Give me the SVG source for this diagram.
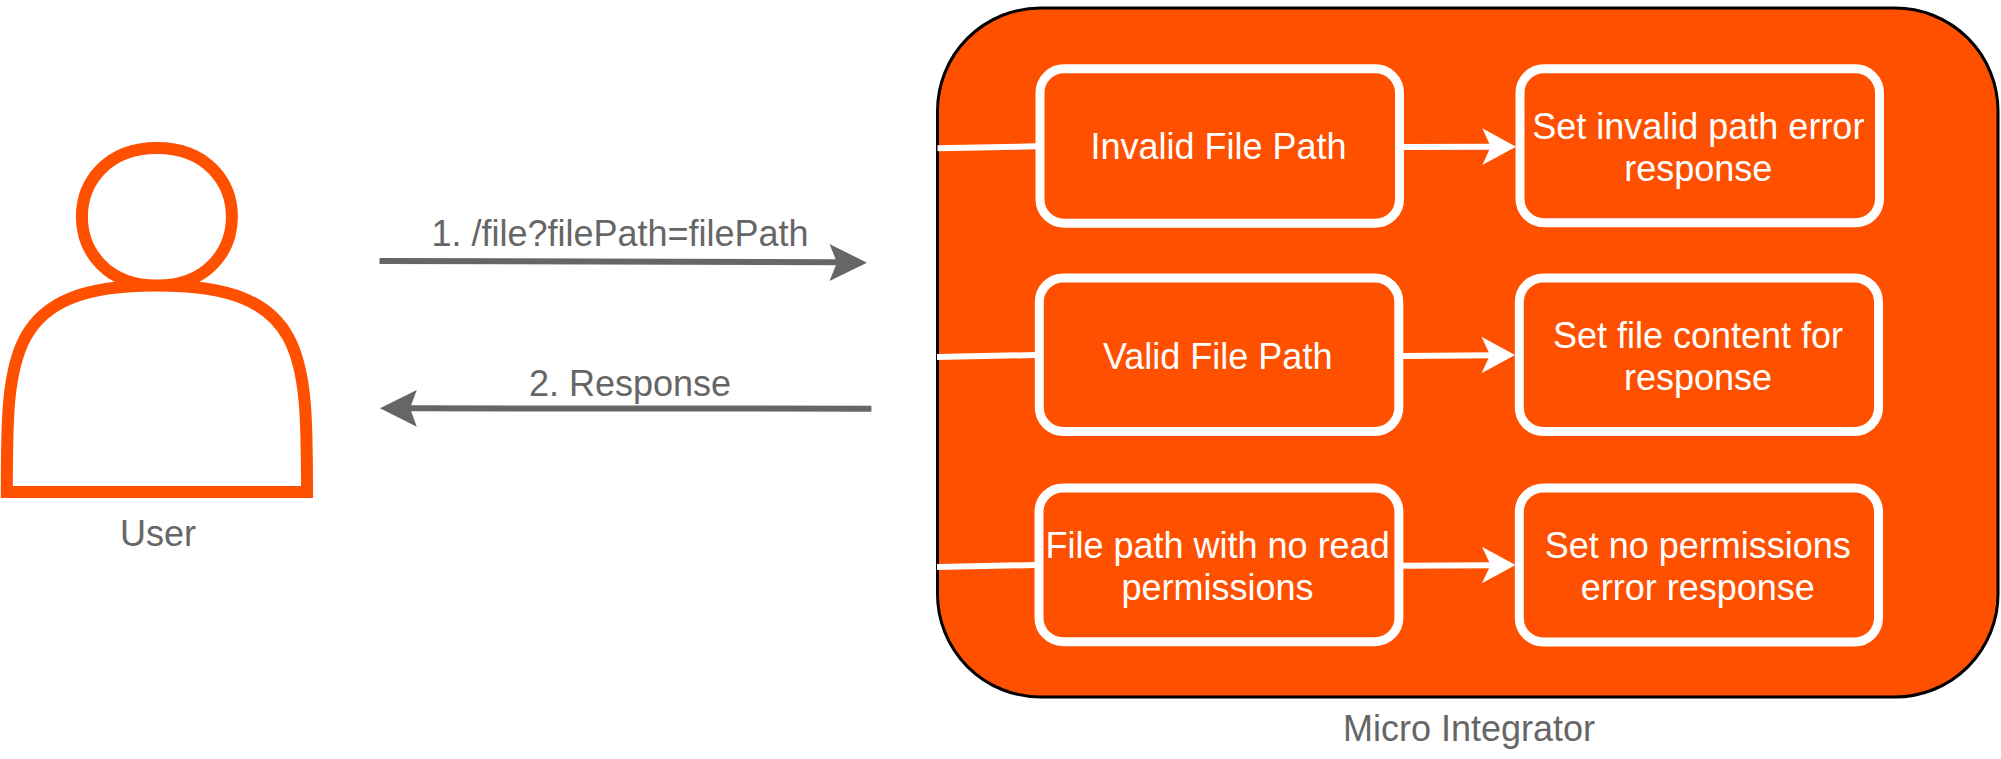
<svg xmlns="http://www.w3.org/2000/svg" width="2001" height="759" viewBox="0 0 2001 759">
<style>
text{font-family:"Liberation Sans",Arial,sans-serif;font-size:36px;text-anchor:middle}
.w{fill:#fff}
.g{fill:#666}
.box{fill:#ff5000;stroke:#fff;stroke-width:9}
.wl{stroke:#fff;stroke-width:6;fill:none}
.gl{stroke:#666;stroke-width:6;fill:none}
</style>
<rect width="2001" height="759" fill="#fff"/>
<g id="user">
<path d="M6.8 492C6.8 354.4 6.8 285.6 156.9 285.6C56.9 285.6 56.9 148 156.9 148C256.9 148 256.9 285.6 156.9 285.6C307 285.6 307 354.4 307 492Z" fill="#fff" stroke="#ff5000" stroke-width="12"/>
<text class="g" x="158" y="545.7">User</text>
</g>
<g id="micro-integrator">
<rect x="937.5" y="8" width="1060.5" height="689" rx="103" ry="103" fill="#ff5000" stroke="#000" stroke-width="3"/>
<text class="g" x="1469" y="740.7">Micro Integrator</text>
</g>
<g id="connectors">
<path class="gl" d="M379.5 261L840 262.3"/>
<path class="g" d="M867 262.7L829.5 281L837 262.5L829.5 244Z"/>
<text class="g" x="620" y="246">1. /file?filePath=filePath</text>
<path class="gl" d="M871.4 408.7L410 408.3"/>
<path class="g" d="M380 408.3L416.8 390L410 408.3L416.8 426.7Z"/>
<text class="g" x="630" y="395.8">2. Response</text>
<path class="wl" d="M937.5 148.3L1036 146.3"/>
<path class="wl" d="M1404 147L1494 146.7"/>
<path class="w" d="M1516 146.7L1482.3 165L1490.7 146.7L1482.3 128.3Z"/>
<path class="wl" d="M937 357L1035 355"/>
<path class="wl" d="M1403 355.9L1493 355.2"/>
<path class="w" d="M1515 355L1481.5 373.3L1490 355L1481.5 336.7Z"/>
<path class="wl" d="M937 567L1035 565"/>
<path class="wl" d="M1403 565.7L1493 565.2"/>
<path class="w" d="M1515.5 565L1482 583.3L1490.6 565L1482 546.7Z"/>
</g>
<g id="invalid-file-path">
<rect class="box" x="1040" y="68.8" width="359.5" height="154.4" rx="24" ry="24"/>
<text class="w" x="1218.5" y="159.3">Invalid File Path</text>
</g>
<g id="set-invalid-path">
<rect class="box" x="1520" y="68.8" width="359.5" height="154" rx="24" ry="24"/>
<text class="w" x="1698.3" y="138.8">Set invalid path error</text>
<text class="w" x="1698.3" y="180.8">response</text>
</g>
<g id="valid-file-path">
<rect class="box" x="1039.3" y="278" width="359.5" height="153.5" rx="24" ry="24"/>
<text class="w" x="1217.7" y="369">Valid File Path</text>
</g>
<g id="set-file-content">
<rect class="box" x="1519.3" y="278" width="359.2" height="153.5" rx="24" ry="24"/>
<text class="w" x="1698" y="348">Set file content for</text>
<text class="w" x="1698" y="390">response</text>
</g>
<g id="no-read-permissions">
<rect class="box" x="1039" y="488" width="359.9" height="153.7" rx="24" ry="24"/>
<text class="w" x="1217.6" y="558">File path with no read</text>
<text class="w" x="1217.6" y="600">permissions</text>
</g>
<g id="set-no-permissions">
<rect class="box" x="1519.3" y="488" width="359.2" height="154" rx="24" ry="24"/>
<text class="w" x="1697.7" y="558">Set no permissions</text>
<text class="w" x="1697.7" y="600">error response</text>
</g>
</svg>
